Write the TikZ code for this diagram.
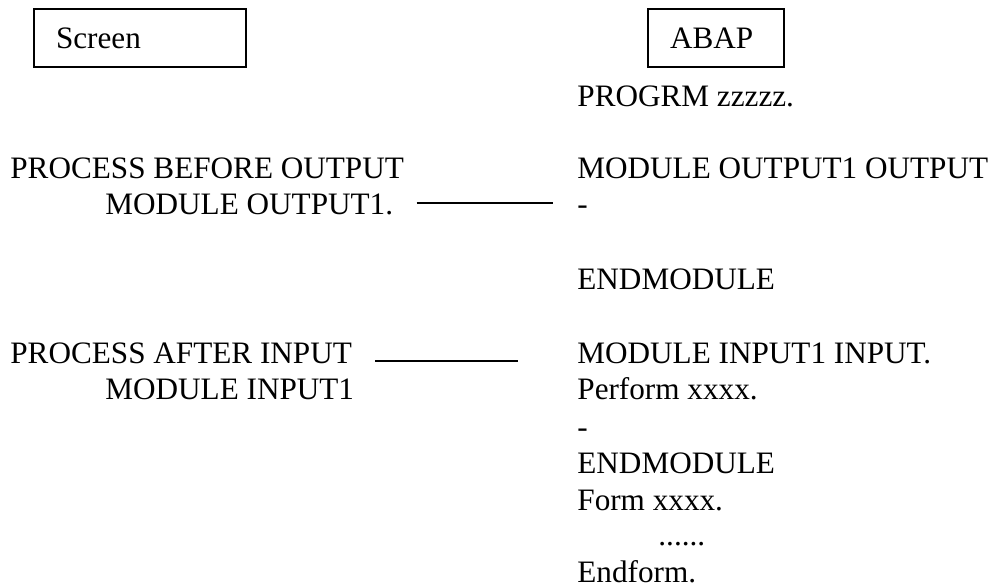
\documentclass[tikz,border=0pt]{standalone}
\usepackage{fontspec}
\setmainfont{Liberation Serif}
\usetikzlibrary{positioning,calc}

\tikzset{
  code/.style={anchor=base west, inner sep=0pt, font=\fontsize{15.6pt}{18pt}\selectfont},
  tbox/.style={draw, line width=1pt, anchor=north west, align=left, inner xsep=11pt, inner ysep=0pt,
    minimum height=29pt, font=\fontsize{15.6pt}{18pt}\selectfont},
  link/.style={line width=0.8pt}
}

\begin{document}
\begin{tikzpicture}[x=0.5pt,y=-0.5pt]
      \useasboundingbox (0,0) rectangle (1000,587);

      % Header boxes
      \node[tbox, text width=84pt] (screen) at (33,8) {Screen};
      \node[tbox, text width=46pt] (abap) at (647,8) {ABAP};

      % Screen flow logic
      \node[code] (pbo) at (10,179) {PROCESS BEFORE OUTPUT};
      \node[code] (mo1) at (105,215) {MODULE OUTPUT1.};
      \node[code] (pai) at (10,364) {PROCESS AFTER INPUT};
      \node[code] (mi1) at (105,400) {MODULE INPUT1};

      % ABAP program
      \foreach \n/\y/\t in {prog/107/PROGRM zzzzz., modout/179/MODULE OUTPUT1 OUTPUT,
          dashA/215/-, endA/290/ENDMODULE, modin/364/MODULE INPUT1 INPUT.,
          perf/400/Perform xxxx., dashB/437/-, endB/473/ENDMODULE,
          form/510/Form xxxx., endf/582/Endform.}
        \node[code] (\n) at (577,\y) {\t};
      \node[code] (dots) at (658,545) {......};

      % Connections
      \draw[link] ($(mo1.base east)+(23,-12)$) -- ($(dashA.base west)+(-24,-12)$);
      \draw[link] ($(pai.base east)+(23,-3)$) -- ($(modin.base west)+(-59,-3)$);
    \end{tikzpicture}
\end{document}
